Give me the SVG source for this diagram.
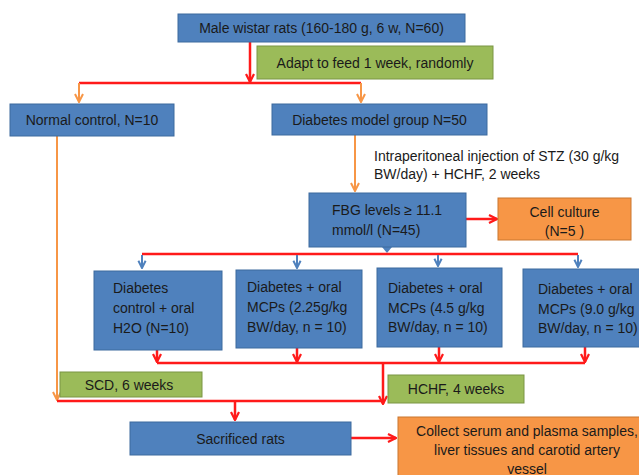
<svg xmlns="http://www.w3.org/2000/svg" width="639" height="475" viewBox="0 0 639 475">
<style>
  .blue{fill:#4f81bd;stroke:#3d6a9e;stroke-width:1}
  .green{fill:#9bbb59;stroke:#7a9544;stroke-width:1}
  .orange{fill:#f79646;stroke:#c9762f;stroke-width:1}
  text{font-family:"Liberation Sans",Arial,sans-serif;font-size:14px;fill:#1a1a1a}
  .c{text-anchor:middle}
  .r{stroke:#ff1a1a;stroke-width:2.5;fill:none}
  .o{stroke:#f79646;stroke-width:2;fill:none}
  .b{stroke:#4f81bd;stroke-width:2;fill:none}
</style>
<defs>
  <marker id="ar" viewBox="0 0 10 10" refX="9" refY="5" markerWidth="10" markerHeight="12" markerUnits="userSpaceOnUse" orient="auto">
    <path d="M1,1 L9,5 L1,9" fill="none" stroke="#ff1a1a" stroke-width="2.2"/>
  </marker>
  <marker id="ao" viewBox="0 0 10 10" refX="9" refY="5" markerWidth="10" markerHeight="12" markerUnits="userSpaceOnUse" orient="auto">
    <path d="M1,1 L9,5 L1,9" fill="none" stroke="#f79646" stroke-width="2"/>
  </marker>
  <marker id="ab" viewBox="0 0 10 10" refX="9" refY="5" markerWidth="9" markerHeight="11" markerUnits="userSpaceOnUse" orient="auto">
    <path d="M1,1 L9,5 L1,9" fill="none" stroke="#4f81bd" stroke-width="2.2"/>
  </marker>
</defs>

<g id="connectors">
  <path class="r" d="M250,42 V82" marker-end="url(#ar)"/>
  <path class="r" d="M79,83 H361"/>
  <path class="o" d="M79,83 V102" marker-end="url(#ao)"/>
  <path class="o" d="M361,83 V102" marker-end="url(#ao)"/>
  <path class="o" d="M57,136 V400" marker-end="url(#ao)"/>
  <path class="o" d="M355,135 V191" marker-end="url(#ao)"/>
  <path d="M382,247 L392,247 L387,253 Z" fill="#4f81bd"/>
  <path class="r" d="M466,219 H497" marker-end="url(#ar)"/>
  <path class="r" d="M142,254 H578"/>
  <path class="b" d="M142,255 V268" marker-end="url(#ab)"/>
  <path class="b" d="M297,255 V268" marker-end="url(#ab)"/>
  <path class="b" d="M438,255 V266" marker-end="url(#ab)"/>
  <path class="b" d="M578,255 V267" marker-end="url(#ab)"/>
  <path class="r" d="M157,350 V362" marker-end="url(#ar)"/>
  <path class="r" d="M297,348 V362" marker-end="url(#ar)"/>
  <path class="r" d="M439,347 V362" marker-end="url(#ar)"/>
  <path class="r" d="M585,347 V362" marker-end="url(#ar)"/>
  <path class="r" d="M157,363 H585"/>
  <path class="r" d="M383,363 V404" marker-end="url(#ar)"/>
  <path class="r" d="M57,401 H383"/>
  <path class="r" d="M235,401 V420" marker-end="url(#ar)"/>
  <path class="r" d="M351,438 H396" marker-end="url(#ar)"/>
</g>

<g id="n-start">
  <rect class="blue" x="178" y="14" width="287" height="28"/>
  <text class="c" x="321.5" y="33">Male wistar rats (160-180 g, 6 w, N=60)</text>
</g>
<g id="n-adapt">
  <rect class="green" x="257" y="46" width="236" height="33"/>
  <text class="c" x="375" y="67.5">Adapt to feed 1 week, randomly</text>
</g>
<g id="n-normal">
  <rect class="blue" x="10" y="104" width="164" height="32"/>
  <text class="c" x="92" y="125">Normal control, N=10</text>
</g>
<g id="n-model">
  <rect class="blue" x="272" y="104" width="215" height="31"/>
  <text class="c" x="379.5" y="124.5">Diabetes model group N=50</text>
</g>
<g id="l-stz">
  <text x="374" y="161">Intraperitoneal injection of STZ (30 g/kg</text>
  <text x="374" y="179">BW/day) + HCHF, 2 weeks</text>
</g>
<g id="n-fbg">
  <rect class="blue" x="309" y="193" width="157" height="54"/>
  <text x="332" y="215">FBG levels ≥ 11.1</text>
  <text x="332" y="235">mmol/l (N=45)</text>
</g>
<g id="n-cell">
  <rect class="orange" x="498" y="198" width="133" height="42"/>
  <text class="c" x="564.5" y="217">Cell culture</text>
  <text class="c" x="564.5" y="236">(N=5 )</text>
</g>
<g id="n-g1">
  <rect class="blue" x="94" y="271" width="128" height="79"/>
  <text x="113" y="293">Diabetes</text>
  <text x="113" y="313">control + oral</text>
  <text x="113" y="333">H2O (N=10)</text>
</g>
<g id="n-g2">
  <rect class="blue" x="236" y="270" width="126" height="78"/>
  <text x="247" y="292">Diabetes + oral</text>
  <text x="247" y="312">MCPs (2.25g/kg</text>
  <text x="247" y="332">BW/day, n = 10)</text>
</g>
<g id="n-g3">
  <rect class="blue" x="377" y="268" width="125" height="79"/>
  <text x="388" y="293">Diabetes + oral</text>
  <text x="388" y="313">MCPs (4.5 g/kg</text>
  <text x="388" y="332">BW/day, n = 10)</text>
</g>
<g id="n-g4">
  <rect class="blue" x="523" y="269" width="130" height="78"/>
  <text x="538" y="294">Diabetes + oral</text>
  <text x="538" y="314">MCPs (9.0 g/kg</text>
  <text x="538" y="333">BW/day, n = 10)</text>
</g>
<g id="n-scd">
  <rect class="green" x="60" y="372" width="142" height="25"/>
  <text class="c" x="129" y="389.5">SCD, 6 weeks</text>
</g>
<g id="n-hchf">
  <rect class="green" x="388" y="375" width="136" height="28"/>
  <text class="c" x="456" y="394">HCHF, 4 weeks</text>
</g>
<g id="n-sac">
  <rect class="blue" x="130" y="422" width="221" height="33"/>
  <text class="c" x="240.5" y="443.5">Sacrificed rats</text>
</g>
<g id="n-collect">
  <rect class="orange" x="398" y="417" width="258" height="70"/>
  <text class="c" x="527" y="436">Collect serum and plasma samples,</text>
  <text class="c" x="527" y="455">liver tissues and carotid artery</text>
  <text class="c" x="527" y="473.5">vessel</text>
</g>
</svg>
